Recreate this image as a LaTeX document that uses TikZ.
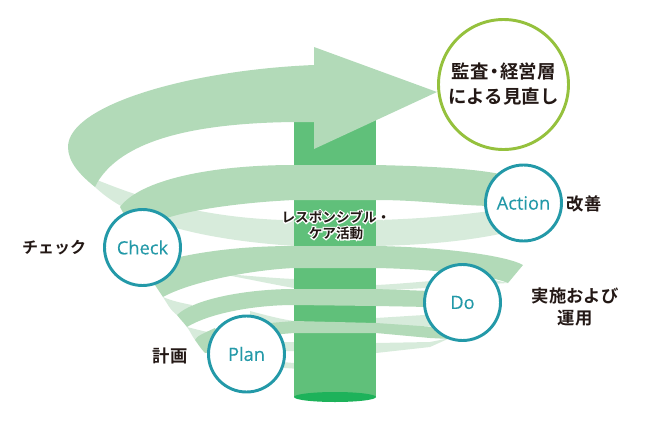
\documentclass[tikz,border=0pt]{standalone}
\usepackage{fontspec}
\setmainfont{Open Sans}[FakeBold=0.2]
\newfontfamily\jpfont{Noto Sans CJK JP}[BoldFont={Noto Sans CJK JP Bold}]
\newcommand{\halotext}[1]{\rlap{\color{white}\special{pdf:code q 2 Tr 1.8 w 1 1 1 RG}#1\special{pdf:code Q}}#1}
\definecolor{bandlight}{HTML}{D7EBDB}
\definecolor{bandmid}{HTML}{B2DAB8}
\definecolor{pillar}{HTML}{60C07A}
\definecolor{pillarbase}{HTML}{1DB25A}
\definecolor{stepteal}{HTML}{2399A8}
\definecolor{auditgreen}{HTML}{95C13D}
\definecolor{labelink}{HTML}{231815}
\tikzset{
    x=0.75pt, y=-0.75pt,
    stepcircle/.style={circle, draw=stepteal, line width=2.2pt, fill=white, minimum size=57pt, inner sep=0pt,
        text=stepteal, font=\fontsize{13.7}{16}\selectfont},
    auditcircle/.style={circle, draw=auditgreen, line width=2.2pt, fill=white, minimum size=97.5pt, inner sep=0pt,
        text=labelink, align=center, font=\jpfont\bfseries\fontsize{13.8}{18.75}\selectfont},
    steplabel/.style={text=labelink, align=center, inner sep=0pt, font=\jpfont\bfseries\fontsize{13}{17}\selectfont},
    pillarlabel/.style={text=labelink, align=center, inner sep=0pt, font=\jpfont\bfseries\fontsize{10.2}{12}\selectfont},
}
\begin{document}
\begin{tikzpicture}
    \useasboundingbox (0,0) rectangle (647,422);

    \fill[bandlight] (97,180) .. controls (130,193) and (190,217) .. (283,220) -- (376,220)
        .. controls (420,219) and (460,215) .. (490,211) -- (500,234)
        .. controls (460,242) and (420,245) .. (376,246) -- (294,246)
        .. controls (210,240) and (135,225) .. (95,187) -- cycle;
    \fill[bandlight] (163,297) .. controls (172,301) and (182,303) .. (192,305) -- (190,312) -- (177,315)
        .. controls (170,310) and (167,303) .. (163,297) -- cycle;
    \fill[bandlight] (213,273) .. controls (240,275) and (270,278) .. (294,279) -- (376,285)
        .. controls (400,284) and (440,280) .. (480,277) -- (508,283) -- (376,291) -- (294,288)
        .. controls (265,283) and (240,277) .. (213,273) -- cycle;
    \fill[bandlight] (187,327) .. controls (195,329) and (202,331) .. (208,332) -- (212,338) -- (195,340)
        .. controls (192,336) and (190,331) .. (187,327) -- cycle;
    \fill[bandlight] (250,311) .. controls (265,315) and (280,319) .. (294,321) -- (376,318) -- (440,314) -- (440,326) -- (250,326) -- cycle;
    \fill[bandlight] (270,342) -- (294,342) -- (376,343) -- (430,342) -- (450,338) -- (430,347) -- (376,353) -- (294,351) -- (270,351) -- cycle;
    \fill[bandlight] (270,361) -- (294,363) -- (300,369) -- (270,367) -- cycle;

    \fill[pillar] (294,100) rectangle (376,397);
    \fill[pillarbase] (335,397) ellipse [x radius=41, y radius=5];

    \fill[bandmid] (314,47) -- (437,92) -- (314,149) -- (314,122) -- (294,122)
        .. controls (210,123) and (125,135) .. (97,183) -- (95,187)
        .. controls (80,175) and (68,162) .. (68,147)
        .. controls (68,105) and (190,70) .. (314,65) -- cycle;
    \fill[bandmid] (120,207) .. controls (140,180) and (210,165) .. (294,165) -- (376,165)
        .. controls (420,166) and (470,168) .. (500,174) -- (490,206)
        .. controls (450,205) and (420,200) .. (376,200) -- (294,200)
        .. controls (250,202) and (200,208) .. (170,217) -- (130,225) -- cycle;
    \fill[bandmid] (175,258) .. controls (210,250) and (250,246) .. (294,246) -- (376,246)
        .. controls (440,247) and (505,255) .. (523,265) -- (508,283)
        .. controls (490,275) and (430,269) .. (376,268) -- (294,268)
        .. controls (250,270) and (190,282) .. (163,297) -- (155,285) -- cycle;
    \fill[bandmid] (177,315) .. controls (195,298) and (250,289) .. (294,289) -- (376,289) -- (430,291) -- (430,307) -- (376,306) -- (294,305)
        .. controls (255,305) and (210,313) .. (187,327)
        .. controls (184,323) and (180,319) .. (177,315) -- cycle;
    \fill[bandmid] (195,340) .. controls (197,336) and (202,334) .. (215,328) -- (225,350) -- (205,353)
        .. controls (201,349) and (198,344) .. (195,340) -- cycle;
    \fill[bandmid] (270,323) -- (294,321) -- (376,323) -- (450,328) -- (450,339) -- (430,338) -- (376,333) -- (294,333) -- (270,335) -- cycle;

    \node[auditcircle] (audit) at (503.5,84.5) {監査{\kern-.18em}・{\kern-.18em}経営層\\による見直し};
    \node[stepcircle] (action) at (523.5,203) {Action};
    \node[stepcircle] (check) at (142.5,247.5) {Check};
    \node[stepcircle] (do) at (462.5,302.5) {Do};
    \node[stepcircle] (plan) at (246.5,354) {Plan};

    \node[pillarlabel] (care) at (336,225) {\halotext{レスポンシブル・}\\\halotext{ケア活動}};
    \node[steplabel] (improve) at (584,204) {改善};
    \node[steplabel, font=\jpfont\bfseries\fontsize{12}{16}\selectfont] (inspect) at (54,248) {チェック};
    \node[steplabel] (operate) at (575,307) {実施および\\運用};
    \node[steplabel] (planning) at (170,356) {計画};
\end{tikzpicture}
\end{document}
